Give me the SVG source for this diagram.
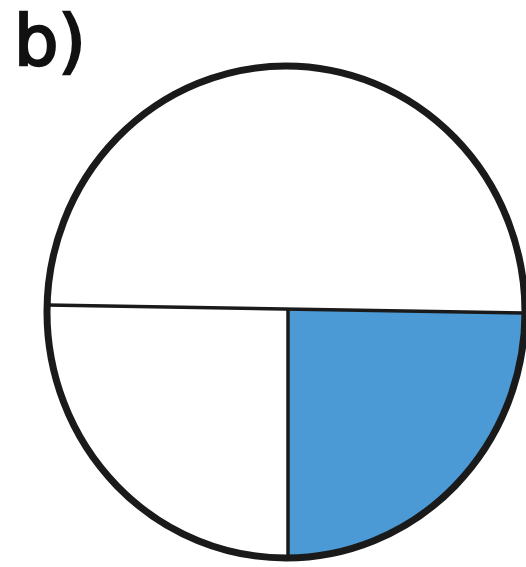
<svg xmlns="http://www.w3.org/2000/svg" width="526" height="567" viewBox="0 0 526 567">
<style>
.ln{stroke:#1a1a1a;fill:none}
.lbl{font-family:"DejaVu Sans",sans-serif;font-size:70px;fill:#111;stroke:#111;stroke-width:2.5}
</style>
<rect width="526" height="567" fill="#fff"/>
<g id="label"><text class="lbl" x="14" y="65">b)</text></g>
<g id="shaded"><path d="M288,309 L525,313 A239,246 0 0 1 288,558 Z" fill="#4b9ad6"/></g>
<g id="connectors">
<line class="ln" x1="47" y1="305" x2="525" y2="313" stroke-width="3.5"/>
<line class="ln" x1="288" y1="309" x2="288" y2="558" stroke-width="3.5"/>
</g>
<g id="circle"><ellipse class="ln" cx="286" cy="312" rx="239" ry="246" stroke="#000" stroke-width="7"/></g>
</svg>
